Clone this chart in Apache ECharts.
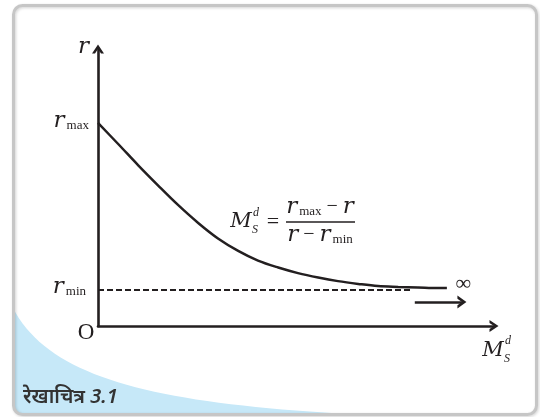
<!DOCTYPE html>
<html><head><meta charset="utf-8">
<script src="https://cdn.jsdelivr.net/npm/echarts@6/dist/echarts.min.js"></script>
<style>html,body{margin:0;padding:0;background:#fff}#c{width:540px;height:417px}</style>
</head><body><div id="c"></div>
<script>
// Data (arbitrary units)
const curveX = [0, 0.51, 1.01, 1.52, 2.02, 2.53, 3.03, 3.54, 4.04, 4.55, 5.05, 5.56, 6.06, 6.57, 7.07, 7.58, 8.08, 8.59, 8.81];
const curveR = [7.33, 6.57, 5.81, 5.07, 4.37, 3.72, 3.16, 2.71, 2.36, 2.11, 1.91, 1.75, 1.62, 1.52, 1.44, 1.41, 1.39, 1.37, 1.37];
const rMin = 1.30;
const rMax = 7.33;
const dashedEndX = 7.95;
const arrowFrom = [8.0, 0.87];
const arrowTo = [9.19, 0.87];
const infinityPos = [9.15, 1.52];
const xRange = [0, 10];
const yRange = [0, 10];
const caption = 'रेखाचित्र 3.1';

const ink = '#231f20';
const chevron = 'path://M0,9 L6,0 L12,9 L9,9 L6,4.5 L3,9 Z';
const serif = '"DejaVu Serif","Liberation Serif",serif';
const serif2 = '"Liberation Serif","DejaVu Serif",serif';

const chart = echarts.init(document.getElementById('c'), null, {renderer: 'canvas'});

const curveData = curveX.map((x, i) => [x, curveR[i]]);

chart.setOption({
  animation: false,
  backgroundColor: '#fff',
  grid: {left: 98, right: 46, top: 49, bottom: 91, containLabel: false},
  xAxis: {
    type: 'value', min: xRange[0], max: xRange[1],
    axisLine: {show: true, onZero: false, lineStyle: {color: ink, width: 2.6},
      symbol: ['none', chevron], symbolSize: [13, 9]},
    axisTick: {show: false}, axisLabel: {show: false}, splitLine: {show: false}
  },
  yAxis: {
    type: 'value', min: yRange[0], max: yRange[1],
    axisLine: {show: true, onZero: false, lineStyle: {color: ink, width: 2.6},
      symbol: ['none', chevron], symbolSize: [13, 9]},
    axisTick: {show: false}, axisLabel: {show: false}, splitLine: {show: false}
  },
  series: [
    {
      type: 'line', name: 'rmin', data: [[0, rMin], [dashedEndX, rMin]],
      symbol: 'none', z: 2,
      lineStyle: {color: ink, width: 2.2, type: [6, 3]}
    },
    {
      type: 'line', name: 'curve', data: curveData, smooth: 0.35,
      symbol: 'none', z: 3,
      lineStyle: {color: ink, width: 2.5},
      markLine: {
        silent: true, symbol: ['none', chevron], symbolSize: [13, 9],
        label: {show: false},
        lineStyle: {color: ink, width: 2.5, type: 'solid'},
        data: [[{coord: arrowFrom}, {coord: arrowTo}]]
      }
    }
  ]
});

const px = (v) => chart.convertToPixel({gridIndex: 0}, v);
const pRmax = px([0, rMax]);
const pRmin = px([0, rMin]);
const pInf = px(infinityPos);

// decorative blue corner shape (cubic bezier outline sampled into a polygon)
function bez(p0, p1, p2, p3, n) {
  const pts = [];
  for (let i = 0; i <= n; i++) {
    const t = i / n, u = 1 - t;
    pts.push([
      u*u*u*p0[0] + 3*u*u*t*p1[0] + 3*u*t*t*p2[0] + t*t*t*p3[0],
      u*u*u*p0[1] + 3*u*u*t*p1[1] + 3*u*t*t*p2[1] + t*t*t*p3[1]
    ]);
  }
  return pts;
}
const bluePts = bez([13, 308], [50, 380], [160, 405], [370, 415], 40)
  .concat([[22, 415], [16, 413], [13, 406]]);

const rRich = {
  r: {font: 'italic 23px ' + serif, fill: ink},
  s: {font: '13px ' + serif2, fill: ink, padding: [9, 0, 0, 2]},
  o: {font: '20px ' + serif2, fill: ink}
};

function rText(x, y, sub) {
  return {
    type: 'text', x: x, y: y, z: 50,
    style: {text: '{r|r}{s|' + sub + '}', align: 'right', verticalAlign: 'middle', rich: rRich}
  };
}
function t(x, y, text, font, align) {
  return {type: 'text', x: x, y: y, z: 50,
    style: {text: text, font: font, fill: ink, align: align || 'center', verticalAlign: 'middle'}};
}

chart.setOption({
  graphic: [
    {type: 'polygon', z: 0, silent: true,
      shape: {points: bluePts},
      style: {fill: '#c6e8f8'}},
    {type: 'rect', z: 1, silent: true,
      shape: {x: 13.5, y: 5.5, width: 523, height: 409, r: 9},
      style: {fill: 'none', stroke: '#c6c6c6', lineWidth: 3,
        shadowBlur: 3, shadowColor: 'rgba(0,0,0,0.18)', shadowOffsetX: 1, shadowOffsetY: 1}},
    t(89, 47, 'r', 'italic 23px ' + serif, 'right'),
    rText(89, pRmax[1] - 2, 'max'),
    rText(86, pRmin[1] - 3, 'min'),
    t(86, 333, 'O', '23px ' + serif2),
    t(pInf[0] + 3, pInf[1], '∞', '22px ' + serif2),
    t(493, 351, 'M', 'italic 21px ' + serif),
    t(508, 341, 'd', 'italic 12px ' + serif2),
    t(507, 359, 'S', 'italic 12px ' + serif2),
    t(241, 222, 'M', 'italic 21px ' + serif),
    t(256, 213, 'd', 'italic 12px ' + serif2),
    t(255, 230, 'S', 'italic 12px ' + serif2),
    t(273, 222, '=', '22px ' + serif2),
    {type: 'line', z: 50, shape: {x1: 286, y1: 222, x2: 355, y2: 222},
      style: {stroke: ink, lineWidth: 1.6}},
    {type: 'text', x: 320, y: 207, z: 50,
      style: {text: '{r|r}{s|max}{o| − }{r|r}', align: 'center', verticalAlign: 'middle', rich: rRich}},
    {type: 'text', x: 320, y: 235, z: 50,
      style: {text: '{r|r}{o| − }{r|r}{s|min}', align: 'center', verticalAlign: 'middle', rich: rRich}},
    {type: 'text', x: 23, y: 397, z: 50,
      style: {text: caption, font: 'italic 600 20px "Noto Sans", sans-serif',
        fill: '#333', align: 'left', verticalAlign: 'middle'}}
  ]
});
</script></body></html>
